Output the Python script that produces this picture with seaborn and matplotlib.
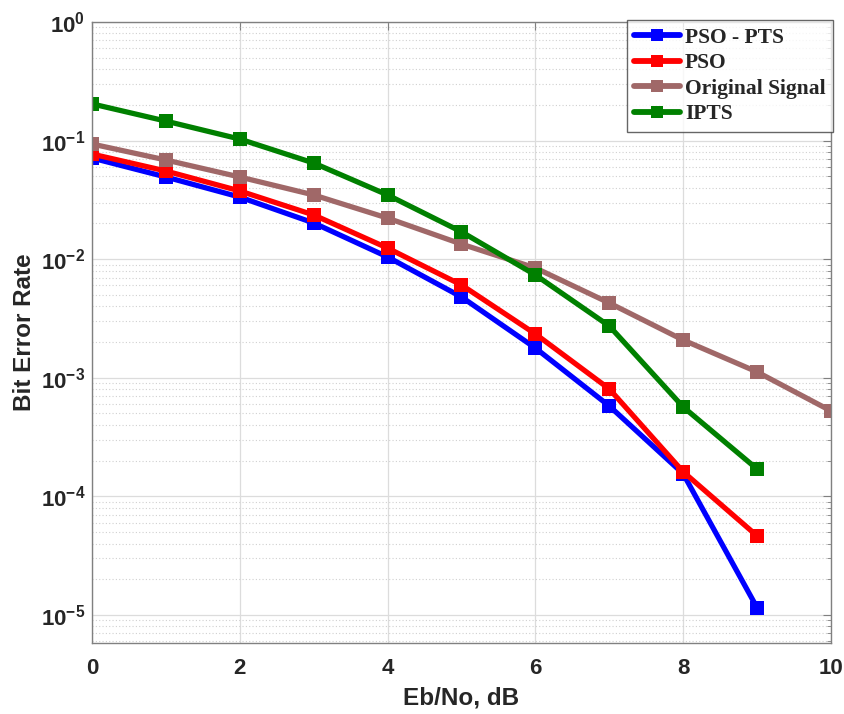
import numpy as np
import pandas as pd
import matplotlib
matplotlib.use("Agg")
import matplotlib.pyplot as plt
import seaborn as sns
from matplotlib.ticker import LogLocator, NullFormatter, FixedLocator

ebno = [0, 1, 2, 3, 4, 5, 6, 7, 8, 9]
ebno_orig = [0, 1, 2, 3, 4, 5, 6, 7, 8, 9, 10]
pso_pts = [0.0713, 0.0493, 0.0334, 0.0202, 0.01044, 0.0048, 0.00178, 5.78e-4, 1.55e-4, 1.15e-5]
pso = [0.077, 0.0554, 0.0376, 0.0236, 0.0124, 0.00606, 0.00234, 8.05e-4, 1.61e-4, 4.64e-5]
original = [0.0936, 0.0686, 0.0493, 0.0348, 0.0222, 0.0134, 0.00843, 0.00427, 0.00208, 0.00112, 5.25e-4]
ipts = [0.204, 0.146, 0.103, 0.0647, 0.0348, 0.0170, 0.00736, 0.00273, 5.67e-4, 1.70e-4]
series_names = ["PSO - PTS", "PSO", "Original Signal", "IPTS"]
x_ticks = [0, 2, 4, 6, 8, 10]

df = pd.concat([
    pd.DataFrame({"x": ebno, "y": pso_pts, "s": series_names[0]}),
    pd.DataFrame({"x": ebno, "y": pso, "s": series_names[1]}),
    pd.DataFrame({"x": ebno_orig, "y": original, "s": series_names[2]}),
    pd.DataFrame({"x": ebno, "y": ipts, "s": series_names[3]}),
], ignore_index=True)

sns.set_style("white")
plt.rcParams['font.family'] = ['Liberation Sans', 'DejaVu Sans']

palette = {"PSO - PTS": "#0000FF", "PSO": "#FF0000",
           "Original Signal": "#A06868", "IPTS": "#008000"}

fig = plt.figure(figsize=(8.45, 7.14), dpi=100)
ax = fig.add_axes([92 / 845, 1 - 643 / 714, (831 - 92) / 845, (643 - 22) / 714])

sns.lineplot(data=df, x="x", y="y", hue="s", hue_order=series_names,
             palette=palette, marker="s", markersize=10, linewidth=3.8,
             markeredgewidth=0, dashes=False, ax=ax, legend=True)

ax.set_yscale("log")
ax.set_xlim(0, 10)
ax.set_ylim(5.8e-6, 1)
ax.xaxis.set_major_locator(FixedLocator(x_ticks))
ax.yaxis.set_major_locator(LogLocator(base=10, numticks=10))
ax.yaxis.set_minor_locator(LogLocator(base=10, subs=np.arange(2, 10), numticks=20))
ax.yaxis.set_minor_formatter(NullFormatter())

ax.grid(True, which="major", color="#dcdcdc", linewidth=0.9, linestyle="-")
ax.grid(True, which="minor", axis="y", color="#d0d0d0", linewidth=0.8, linestyle=(0, (1, 2)))
ax.set_axisbelow(True)

for sp in ax.spines.values():
    sp.set_color("#808080")
    sp.set_linewidth(1.0)
ax.tick_params(which="both", direction="in", top=True, right=True, color="#808080")
ax.tick_params(which="major", length=6, labelsize=16)
ax.tick_params(axis="x", which="major", pad=11)
ax.tick_params(axis="y", which="major", pad=5)
ax.tick_params(which="minor", length=3)
for lab in ax.get_xticklabels() + ax.get_yticklabels():
    lab.set_fontweight("bold")

ax.set_xlabel("Eb/No, dB", fontsize=17.5, fontweight="bold", labelpad=5)
ax.set_ylabel("Bit Error Rate", fontsize=17.5, fontweight="bold", labelpad=3)

leg = ax.legend(loc="upper right", bbox_to_anchor=(1.003, 1.003), frameon=True,
                fancybox=False, edgecolor="#404040", handlelength=2.1,
                handletextpad=0.25, borderpad=0.35, labelspacing=0.25,
                borderaxespad=0.0,
                prop={"family": "Liberation Serif", "weight": "bold", "size": 15.5})
leg.get_frame().set_linewidth(1.0)
for h in leg.legend_handles:
    h.set_linewidth(4.2)
    h.set_markersize(9)

fig.savefig("out.png", dpi=100)
